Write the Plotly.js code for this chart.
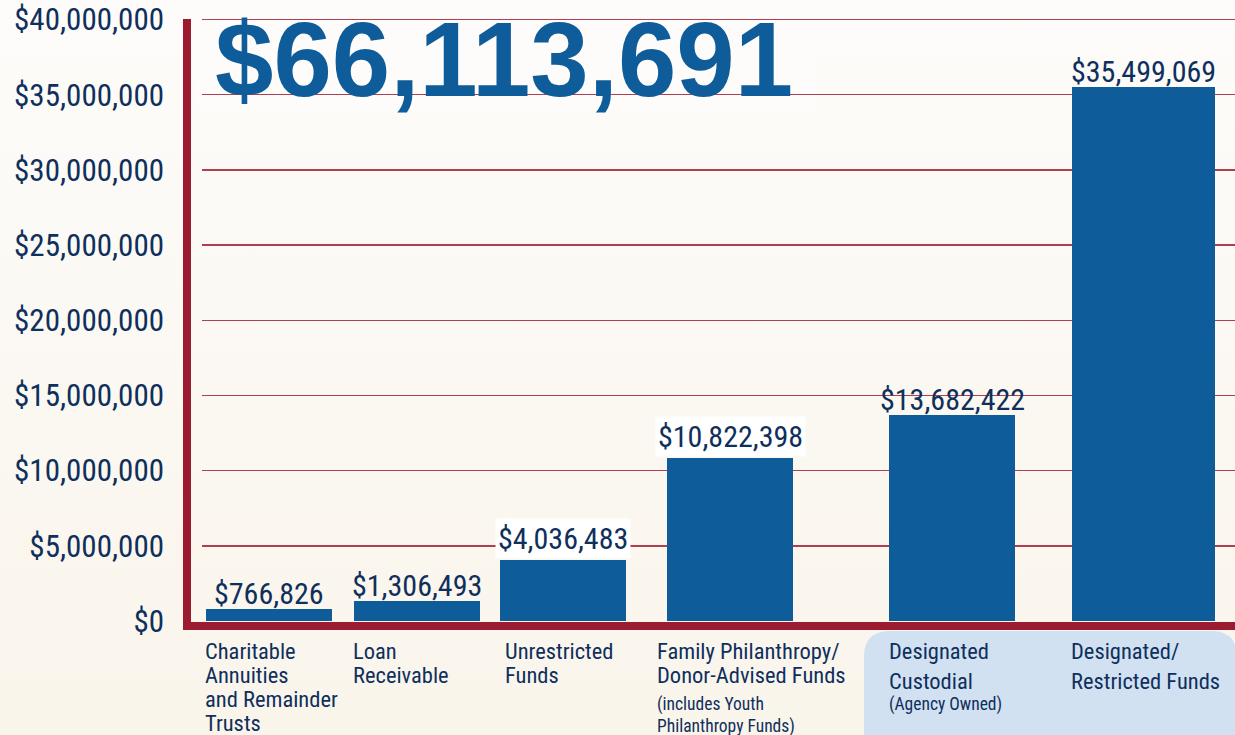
<!DOCTYPE html>
<html>
<head>
<meta charset="utf-8">
<script src="https://cdn.plot.ly/plotly-3.0.1.min.js"></script>
<style>
  html, body { margin: 0; padding: 0; }
  body { width: 1235px; height: 735px; overflow: hidden;
         background: linear-gradient(to bottom, #fdfcfa 0%, #fbf8f2 55%, #faf5eb 100%); }
  #chart { width: 1235px; height: 735px; }
</style>
</head>
<body>
<div id="chart"></div>
<script>
// ---------- data ----------
const categories = [
  "Charitable<br>Annuities<br>and Remainder<br>Trusts",
  "Loan<br>Receivable",
  "Unrestricted<br>Funds",
  "Family Philanthropy/<br>Donor-Advised Funds",
  "Designated<br>Custodial",
  "Designated/<br>Restricted Funds"
];
const categoryNotes = ["", "", "", "(includes Youth<br>Philanthropy Funds)", "(Agency Owned)", ""];
const values = [766826, 1306493, 4036483, 10822398, 13682422, 35499069];
const yTickVals = [0, 5000000, 10000000, 15000000, 20000000, 25000000, 30000000, 35000000, 40000000];

// ---------- layout / style ----------
const W = 1235, H = 735;
const M = { l: 202, r: 0, t: 18, b: 114 };
const plotW = W - M.l - M.r, plotH = H - M.t - M.b;
const Y_TOP = 40100000;
const barLeftPx = [206, 354, 500, 667, 889, 1072];
const barWidthPx = [126, 126, 126, 126, 126, 143];
const catLeftPx = [206, 354, 506, 658, 890, 1072];
const catLineGap = [24, 24, 24, 24, 29.5, 29.5];
const noteShift = [0, 0, 0, 71, 71, 0];
const labelBoxed = [false, false, true, true, false, false];
const LINE_SPACING = 1.3;   // plotly's line spacing factor
const CAT_SIZE = 22.5, NOTE_SIZE = 17.5, NOTE_GAP = 21.5;

const BLUE = "#0e5c99", NAVY = "#0f2f5c", RED = "#9b1b30", PANEL = "#d1e1f1";
const COND = "Roboto Condensed, DejaVu Sans Condensed, sans-serif";

const px2x = p => (p - M.l) / plotW;          // paper x
const py2y = p => (M.t + plotH - p) / plotH;  // paper y

const centers = barLeftPx.map((l, i) => l + barWidthPx[i] / 2);
const fmt = v => "$" + v.toLocaleString("en-US");
const total = values.reduce((a, b) => a + b, 0);
const sized = (txt, size) => txt.split("<br>").map(t => `<span style="font-size:${size}px">${t}</span>`).join("<br>");

const trace = {
  type: "bar",
  x: centers,
  y: values,
  width: barWidthPx,
  marker: { color: BLUE, line: { width: 0 } },
  hoverinfo: "none"
};

const annotations = [];
// value labels
values.forEach((v, i) => {
  annotations.push({
    x: centers[i], y: v, xref: "x", yref: "y",
    xanchor: "center", yanchor: "bottom", yshift: labelBoxed[i] ? 1 : -5,
    text: fmt(v), showarrow: false,
    font: { family: COND, size: 30, color: NAVY },
    bgcolor: labelBoxed[i] ? "#ffffff" : "rgba(0,0,0,0)",
    borderpad: 2
  });
});
// category labels
categories.forEach((c, i) => {
  annotations.push({
    x: catLeftPx[i], y: 0, xref: "x", yref: "paper",
    xanchor: "left", yanchor: "top", align: "left", xshift: -3, yshift: -14.7,
    text: sized(c, CAT_SIZE), showarrow: false,
    font: { family: COND, size: catLineGap[i] / LINE_SPACING, color: NAVY }
  });
  if (categoryNotes[i]) {
    annotations.push({
      x: catLeftPx[i], y: 0, xref: "x", yref: "paper",
      xanchor: "left", yanchor: "top", align: "left", xshift: -3, yshift: -noteShift[i],
      text: sized(categoryNotes[i], NOTE_SIZE), showarrow: false,
      font: { family: COND, size: NOTE_GAP / LINE_SPACING, color: NAVY }
    });
  }
});
// big total
annotations.push({
  x: 214, y: 1, xref: "x", yref: "paper", xanchor: "left", yanchor: "top", yshift: 18,
  text: fmt(total), showarrow: false, borderpad: 0,
  font: { family: "Liberation Sans, Arial, sans-serif", size: 105, weight: 700, color: BLUE }
});

const r = 26; // panel corner radius px
const pl = 864, pr = 1237, pt = 631, pb = 760;
const panelPath =
  `M ${px2x(pl)} ${py2y(pb)} L ${px2x(pl)} ${py2y(pt + r)} ` +
  `Q ${px2x(pl)} ${py2y(pt)} ${px2x(pl + r)} ${py2y(pt)} ` +
  `L ${px2x(pr - r)} ${py2y(pt)} Q ${px2x(pr)} ${py2y(pt)} ${px2x(pr)} ${py2y(pt + r)} ` +
  `L ${px2x(pr)} ${py2y(pb)} Z`;

const shapes = [
  { type: "path", xref: "paper", yref: "paper", path: panelPath,
    fillcolor: PANEL, line: { width: 0 }, layer: "below" },
  { type: "rect", xref: "paper", yref: "paper", x0: px2x(196), x1: px2x(815),
    y0: py2y(110), y1: py2y(0), fillcolor: "#fdfcfa", line: { width: 0 }, layer: "between" },
  { type: "line", xref: "paper", yref: "paper", x0: px2x(187), x1: px2x(187),
    y0: py2y(630), y1: py2y(19), line: { color: RED, width: 8 }, layer: "above" },
  { type: "line", xref: "paper", yref: "paper", x0: px2x(183), x1: px2x(1240),
    y0: py2y(626), y1: py2y(626), line: { color: RED, width: 8 }, layer: "above" }
];

const layout = {
  width: W, height: H,
  margin: M,
  paper_bgcolor: "rgba(0,0,0,0)",
  plot_bgcolor: "rgba(0,0,0,0)",
  showlegend: false,
  bargap: 0,
  xaxis: { range: [M.l, W - M.r], visible: false, fixedrange: true },
  yaxis: {
    range: [0, Y_TOP], tickvals: yTickVals, tickformat: "$,.0f",
    showgrid: true, gridcolor: "rgba(160,30,50,0.85)", gridwidth: 1.5,
    zeroline: false, showline: false, ticks: "", ticklabelstandoff: 37,
    tickfont: { family: COND, size: 31, color: NAVY }, fixedrange: true
  },
  annotations: annotations,
  shapes: shapes
};

Plotly.newPlot("chart", [trace], layout, { displayModeBar: false, staticPlot: true });
</script>
</body>
</html>
